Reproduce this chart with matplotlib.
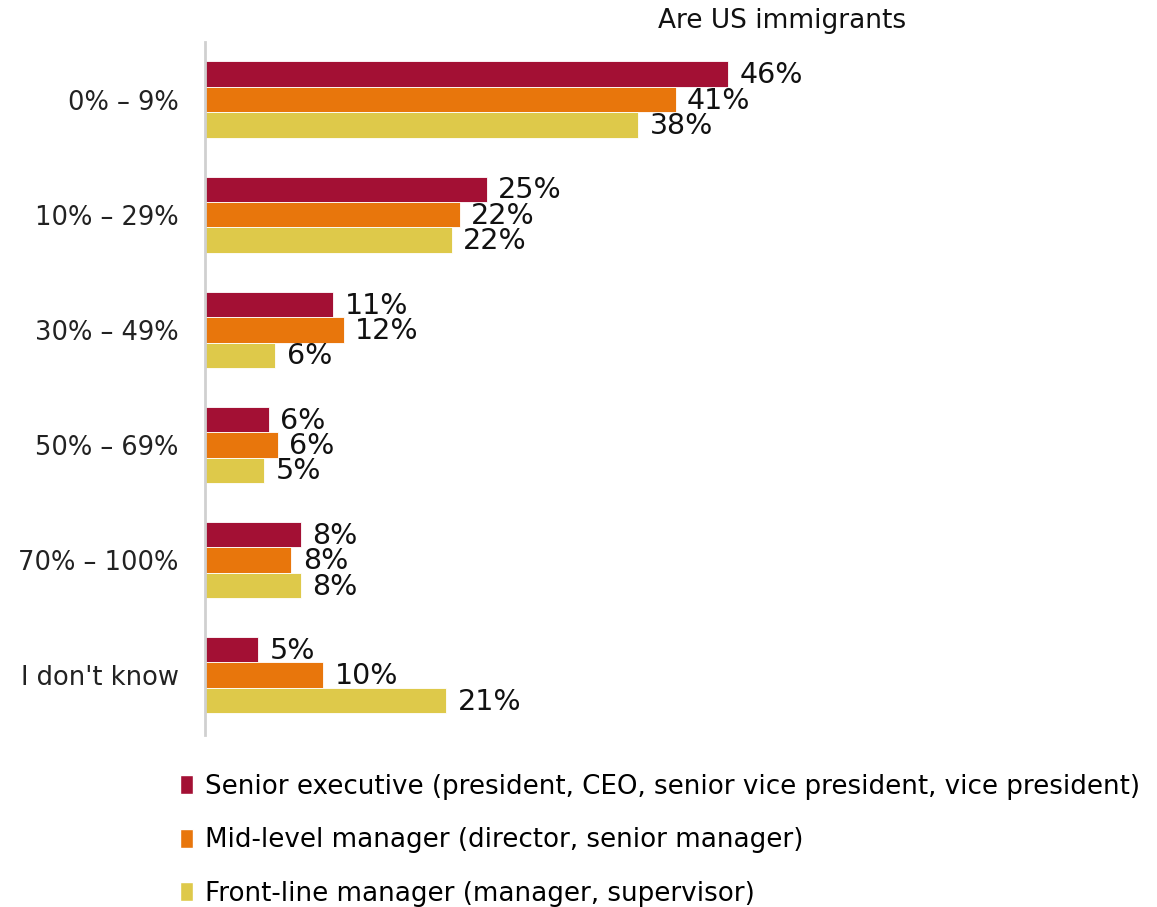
import matplotlib.pyplot as plt
import numpy as np
from matplotlib.patches import Patch

categories = ["0% \u2013 9%", "10% \u2013 29%", "30% \u2013 49%", "50% \u2013 69%", "70% \u2013 100%", "I don't know"]
series = [
    "Senior executive (president, CEO, senior vice president, vice president)",
    "Mid-level manager (director, senior manager)",
    "Front-line manager (manager, supervisor)",
]
senior = [46.0, 24.8, 11.3, 5.6, 8.4, 4.7]
mid = [41.4, 22.4, 12.2, 6.4, 7.6, 10.4]
front = [38.1, 21.7, 6.2, 5.2, 8.4, 21.2]
labels = [
    ["46%", "25%", "11%", "6%", "8%", "5%"],
    ["41%", "22%", "12%", "6%", "8%", "10%"],
    ["38%", "22%", "6%", "5%", "8%", "21%"],
]
colors = ["#A31034", "#E8760C", "#DEC94A"]

fig = plt.figure(figsize=(11.57, 9.07), dpi=100)
left, right = 205 / 1157, 1100 / 1157
ax = fig.add_axes([left, 1 - 735 / 907, right - left, (735 - 42) / 907])

y = np.arange(len(categories))
h = 0.221
for i, vals in enumerate([senior, mid, front]):
    pos = y + (i - 1) * h
    ax.barh(pos, vals, height=h, color=colors[i], edgecolor="white", linewidth=0.6)
    for p, v, t in zip(pos, vals, labels[i]):
        ax.text(v + 1.0, p + 0.01, t, va="center", ha="left", fontsize=20.5, color="#111111")

ax.set_xlim(0, (1100 - 205) / 11.37)
ax.set_ylim(5.52, -0.5)
ax.set_yticks(y)
ax.set_yticklabels(categories, fontsize=18.5, color="#222222")
ax.tick_params(axis="y", length=0, pad=19)
ax.set_xticks([])
for s in ["top", "right", "bottom"]:
    ax.spines[s].set_visible(False)
ax.spines["left"].set_color("#d0d0d0")
ax.spines["left"].set_linewidth(2)

fig.text(782 / 1157, 1 - 21 / 907, "Are US immigrants", ha="center", va="center", fontsize=19, color="#111111")

handles = [Patch(facecolor=c, edgecolor="white") for c in colors]
fig.legend(handles, series, loc="upper left", bbox_to_anchor=(180 / 1157, 1 - 774 / 907),
           frameon=False, fontsize=18.8, handlelength=0.5, handleheight=0.75,
           handletextpad=0.45, labelspacing=1.05, borderaxespad=0, borderpad=0)

fig.savefig("out.png", dpi=100)
